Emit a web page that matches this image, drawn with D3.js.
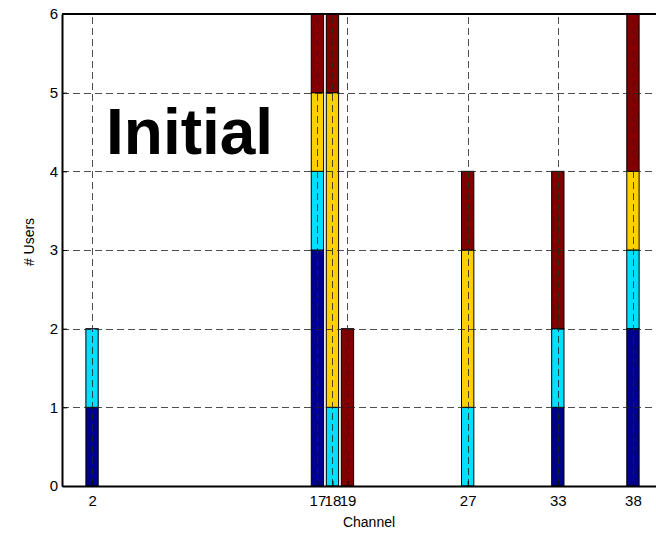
<!DOCTYPE html>
<html>
<head>
<meta charset="utf-8">
<script src="https://cdn.jsdelivr.net/npm/d3@7"></script>
<style>
  body { margin: 0; background: #fff; }
  text { font-family: "Liberation Sans", Arial, sans-serif; }
</style>
</head>
<body>
<div id="chart"></div>
<script>
// channels on the x axis, one stacked bar each
const channels = [2, 17, 18, 19, 27, 33, 38];
// users per channel, one array per stack layer (bottom to top)
const layerBlue   = [1, 3, 0, 0, 0, 1, 2];
const layerCyan   = [1, 1, 1, 0, 1, 1, 1];
const layerYellow = [0, 1, 4, 0, 2, 0, 1];
const layerRed    = [0, 1, 1, 2, 1, 2, 2];
const layerColors = ["#00008f", "#00dfff", "#ffcf00", "#800000"];
const yTicks = [0, 1, 2, 3, 4, 5, 6];

const W = 656, H = 535;
const margin = { top: 14, left: 62, bottom: 49 };
const xRight = 663; // the axes box runs past the window edge

const svg = d3.select("#chart").append("svg")
    .attr("width", W)
    .attr("height", H);

const x = d3.scaleLinear().domain([0, 40]).range([margin.left, xRight]);
const y = d3.scaleLinear().domain([0, 6]).range([H - margin.bottom, margin.top]);

// build stack table
const rows = channels.map((c, i) => ({
    channel: c, a: layerBlue[i], b: layerCyan[i], c: layerYellow[i], d: layerRed[i]
}));
const stacked = d3.stack().keys(["a", "b", "c", "d"])(rows);

const barW = x(0.82) - x(0);

stacked.forEach((layer, li) => {
    svg.append("g")
        .selectAll("rect")
        .data(layer.filter(d => d[1] - d[0] > 0))
        .join("rect")
            .attr("x", d => x(d.data.channel) - barW / 2)
            .attr("y", d => y(d[1]))
            .attr("width", barW)
            .attr("height", d => y(d[0]) - y(d[1]))
            .attr("fill", layerColors[li])
            .attr("stroke", "#000")
            .attr("stroke-width", 1);
});

// dashed grid drawn over the bars, like MATLAB
const grid = svg.append("g")
    .attr("stroke", "#222")
    .attr("stroke-width", 1)
    .attr("stroke-dasharray", "7,4")
    .attr("opacity", 0.8);

grid.selectAll("line.h")
    .data(yTicks.slice(1))
    .join("line")
        .attr("x1", x(0)).attr("x2", xRight)
        .attr("y1", d => Math.round(y(d)) + 0.5)
        .attr("y2", d => Math.round(y(d)) + 0.5);

grid.selectAll("line.v")
    .data(channels)
    .join("line")
        .attr("x1", d => Math.round(x(d)) + 0.5)
        .attr("x2", d => Math.round(x(d)) + 0.5)
        .attr("y1", y(0)).attr("y2", y(6));

// axes
const xAxis = svg.append("g")
    .attr("transform", `translate(0, ${y(0)})`)
    .call(d3.axisBottom(x).tickValues(channels).tickFormat(d3.format("d"))
        .tickSizeInner(-5).tickSizeOuter(0).tickPadding(9));
const yAxis = svg.append("g")
    .attr("transform", `translate(${x(0)}, 0)`)
    .call(d3.axisLeft(y).tickValues(yTicks).tickFormat(d3.format("d"))
        .tickSizeInner(-5).tickSizeOuter(0).tickPadding(4));

[xAxis, yAxis].forEach(g => {
    g.attr("font-family", null);
    g.selectAll("text").attr("font-size", 15).attr("fill", "#000");
    g.select(".domain").attr("stroke", "#000").attr("stroke-width", 2);
});

// top border of the box
svg.append("line")
    .attr("x1", x(0)).attr("x2", xRight)
    .attr("y1", y(6)).attr("y2", y(6))
    .attr("stroke", "#000").attr("stroke-width", 2);

// labels
svg.append("text")
    .attr("x", 369)
    .attr("y", 527)
    .attr("text-anchor", "middle")
    .attr("font-size", 14)
    .text("Channel");

svg.append("text")
    .attr("transform", `translate(34, 242) rotate(-90)`)
    .attr("text-anchor", "middle")
    .attr("font-size", 14)
    .text("# Users");

svg.append("text")
    .attr("x", 106)
    .attr("y", 154)
    .attr("font-size", 64)
    .attr("font-weight", "bold")
    .text("Initial");
</script>
</body>
</html>
